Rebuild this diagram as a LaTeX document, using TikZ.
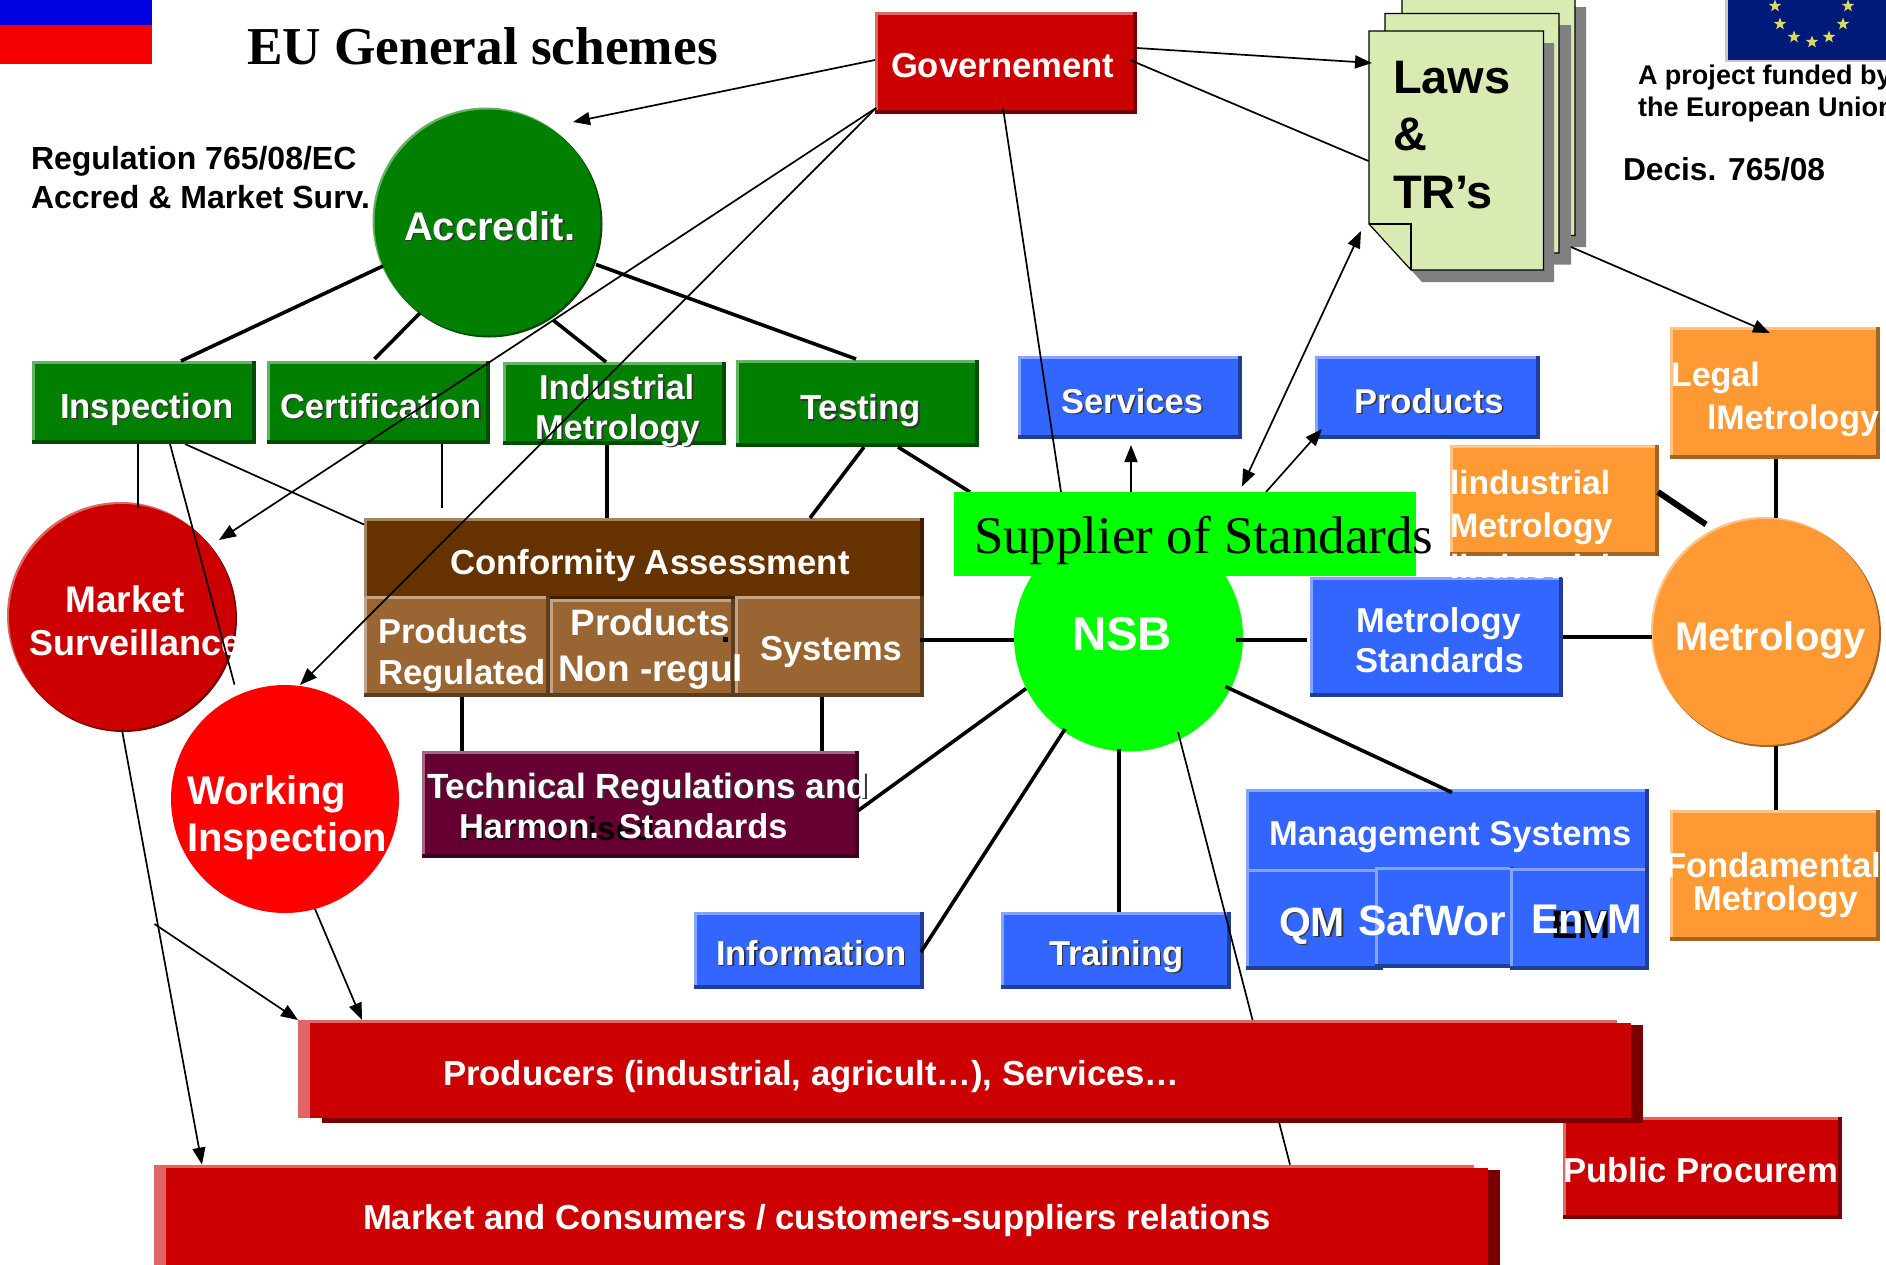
\documentclass[tikz,border=0pt]{standalone}
\usepackage{fontspec}
\setmainfont{Liberation Sans}
\newfontfamily\tmsfam{Liberation Serif}
\usetikzlibrary{calc,arrows.meta,shapes.geometric}
% colour families: L light edge, B base, D dark edge
\definecolor{grnL}{HTML}{66B266}\definecolor{grnB}{HTML}{007F00}\definecolor{grnD}{HTML}{004C00}
\definecolor{redL}{HTML}{E06666}\definecolor{redB}{HTML}{CC0000}\definecolor{redD}{HTML}{7A0000}
\definecolor{bluL}{HTML}{85A3FF}\definecolor{bluB}{HTML}{3366FF}\definecolor{bluD}{HTML}{1F3D99}
\definecolor{orgL}{HTML}{FFC285}\definecolor{orgB}{HTML}{FF9933}\definecolor{orgD}{HTML}{A66421}
\definecolor{brhL}{HTML}{A38566}\definecolor{brhB}{HTML}{663300}\definecolor{brhD}{HTML}{3D1F00}
\definecolor{brsL}{HTML}{C2A385}\definecolor{brsB}{HTML}{996633}\definecolor{brsD}{HTML}{5C3D1F}
\definecolor{tecL}{HTML}{A36685}\definecolor{tecB}{HTML}{660033}\definecolor{tecD}{HTML}{3D001F}
\definecolor{docfill}{HTML}{D9EAB3}
\definecolor{euL}{HTML}{C8C8C8}\definecolor{euB}{HTML}{001A7A}\definecolor{starcol}{HTML}{DDD860}
\newcommand\lab[1]{\bfseries\fontsize{#1}{#1}\selectfont}
\newcommand\shd[1]{\rlap{\kern1.6pt\raisebox{-1.6pt}{\color{black!80}#1}}#1}
\tikzset{
  blk/.style={anchor=base west,inner sep=0pt,outer sep=0pt,text=black},
  wht/.style={anchor=base west,inner sep=0pt,outer sep=0pt,text=white},
  boxn/.style={rectangle,inner sep=0pt,outer sep=0pt},
  cirn/.style={circle,inner sep=0pt,outer sep=0pt},
  thinl/.style={draw=black,line width=1.7pt},
  thickl/.style={draw=black,line width=3.6pt},
  arr/.style={-{Triangle[length=17pt,width=13pt]}},
  darr/.style={{Triangle[length=17pt,width=13pt]}-{Triangle[length=17pt,width=13pt]}},
  starn/.style={star,star points=5,star point ratio=2.4,fill=starcol,inner sep=0pt,minimum size=13pt},
  pagel/.style={draw=black,line width=1.2pt,fill=docfill}
}
% \bx{name}{x0}{y0}{x1}{y1}{family}
\newcommand\bx[6]{%
  \node[boxn,fill=#6D,minimum width={(#4-#2)*1pt},minimum height={(#5-#3)*1pt}] (#1) at ({(#2+#4)/2},{(#3+#5)/2}) {};
  \fill[#6L] (#2,#3) rectangle ({#4-4},{#5-4});
  \fill[#6B] ({#2+2.5},{#3+3}) rectangle ({#4-4},{#5-4});
}
% \wbar{name}{x0}{y0}{x1}{y1}: long bar with wide side edges
\newcommand\wbar[5]{%
  \node[boxn,minimum width={(#4-#2)*1pt},minimum height={(#5-#3)*1pt}] (#1) at ({(#2+#4)/2},{(#3+#5)/2}) {};
  \fill[redD] ({#2+24},{#3+5}) rectangle (#4,#5);
  \fill[redL] (#2,#3) rectangle ({#4-26},{#5-5});
  \fill[redB] ({#2+12},{#3+3}) rectangle ({#4-12},{#5-5});
}
% \crc{name}{cx}{cy}{r}{family}
\newcommand\crc[5]{%
  \fill[#5L] ({#2-1.5},{#3-1.5}) circle ({#4-0.5});
  \fill[#5D] ({#2+1.5},{#3+1.5}) circle ({#4-0.5});
  \node[cirn,fill=#5B,minimum size={(2*#4-2)*1pt}] (#1) at (#2,#3) {};
}
% \page{x0}{y0}{x1}{y1}: sheet outline with the cut corner
\newcommand\pagepath[4]{(#1,#2) -- (#3,#2) -- (#3,#4) -- ({#1+42},#4) -- (#1,{#4-46}) -- cycle}
\begin{document}
\begin{tikzpicture}[x=1pt,y=-1pt]
\useasboundingbox (0,0) rectangle (1886,1264);
\clip (0,0) rectangle (1886,1264);
\fill[white] (0,0) rectangle (1886,1264);

% flags
\fill[blue!88!black] (0,0) rectangle (152,25);
\fill[red!96!black] (0,25) rectangle (152,64);
\fill[euL] (1725,-5) rectangle (1890,62);
\fill[euB] (1728,-5) rectangle (1890,60);
\foreach \n/\sx/\sy in {a/1775/6,b/1848/6,c/1780/24,d/1843/24,e/1794/37,f/1812/42,g/1829/37}
  \node[starn] (star\n) at (\sx,\sy) {};

% titles
\node[blk,font={\tmsfam\lab{53.3}}] (title) at (247,64) {EU General schemes};
\node[blk,font=\lab{32}] (reg1) at (31,169) {Regulation 765/08/EC};
\node[blk,font=\lab{32}] (reg2) at (31,208) {Accred \& Market Surv.};
\node[blk,font=\lab{27}] (proj1) at (1638,84) {A project funded by};
\node[blk,font=\lab{27}] (proj2) at (1638,116.5) {the European Union};
\node[blk,font=\lab{31.7}] (decis) at (1623,180) {Decis. 765/08};

% laws documents
\fill[gray] \pagepath{1413}{7}{1586}{247};
\draw[pagel] \pagepath{1402}{-5}{1575}{235.5};
\fill[gray] \pagepath{1396}{25}{1571}{264.5};
\draw[pagel] \pagepath{1385}{13.5}{1559}{253};
\fill[gray] \pagepath{1380}{43}{1554}{282};
\draw[pagel] \pagepath{1369}{31}{1543.5}{270};
\draw[black,line width=1.2pt] (1369,224) -- (1411,224) -- (1411,270);
\node[boxn,minimum width=174.5pt,minimum height=239pt] (laws) at (1456.25,150.5) {};
\node[blk,font=\lab{47}] (tlaws1) at (1393,93) {Laws};
\node[blk,font=\lab{47}] (tlaws2) at (1393,150) {\&};
\node[blk,font=\lab{47}] (tlaws3) at (1393,208) {TR’s};

% boxes
\bx{gov}{875}{12}{1137}{114}{red}
\bx{insp}{32}{361}{256}{444}{grn}
\bx{cert}{267}{361}{490}{444}{grn}
\bx{ind}{503}{362}{726}{445}{grn}
\bx{test}{736}{360}{979}{447}{grn}
\bx{ca}{364}{518}{924}{600}{brh}
\bx{creg}{364}{596}{550}{697}{brs}
\bx{cnon}{550}{599}{735}{697}{brs}
\bx{csys}{735}{596}{924}{697}{brs}
\bx{serv}{1018}{356}{1242}{439}{blu}
\bx{prod}{1315}{356}{1540}{439}{blu}
\bx{legal}{1670}{327}{1880}{459}{org}
\bx{mstd}{1310}{577}{1563}{697}{blu}
\bx{indm}{1450}{445}{1659}{556}{org}
\bx{ms}{1246}{789}{1649}{875}{blu}
\bx{qm}{1246}{869}{1383}{970}{blu}
\bx{saf}{1375}{867}{1514}{968}{blu}
\bx{env}{1510}{868}{1649}{970}{blu}
\bx{fond}{1670}{809.5}{1880}{940.5}{org}
\bx{train}{1001}{912}{1231}{989}{blu}
\bx{info}{694}{912}{924}{989}{blu}
\bx{tech}{422}{751}{859}{858}{tec}
\bx{pub}{1563}{1116.5}{1842}{1219}{red}

% circles
\crc{acc}{487.5}{222.5}{114}{grn}
\crc{msc}{122}{617}{114}{red}
\node[cirn,fill=red,minimum size=228pt] (work) at (285,799) {};
\node[cirn,fill={rgb,255:red,0;green,255;blue,0},minimum size=229pt] (nsb) at (1128.5,637) {};
\crc{met}{1766}{632}{114}{org}

% box texts
\node[wht,font=\lab{34.6}] (tgov) at (891,77.5) {Governement};
\node[wht,font=\lab{40}] (tacc) at (404,240) {\shd{Accredit.}};
\node[wht,font=\lab{34.7}] (tinsp) at (60,418) {\shd{Inspection}};
\node[wht,font=\lab{34.5}] (tcert) at (280,418) {\shd{Certification}};
\node[wht,font=\lab{34.5}] (tind1) at (539,399) {\shd{Industrial}};
\node[wht,font=\lab{34.5}] (tind2) at (535,439) {\shd{Metrology}};
\node[wht,font=\lab{34.8}] (ttest) at (800,419.6) {\shd{Testing}};
\node[wht,font=\lab{34.75}] (tca) at (450,574) {Conformity Assessment};
\node[wht,font=\lab{34.5}] (treg1) at (378,643) {Products};
\node[wht,font=\lab{34.7}] (treg2) at (378,684.5) {Regulated};
\node[wht,font=\lab{36.8}] (tnon1) at (570.5,635) {Products};
\node[wht,font=\lab{37}] (tnon2) at (558,681.5) {Non -regul};
\node[wht,font=\lab{34.5}] (tsys) at (760,660.5) {Systems};
\node[wht,font=\lab{34.5}] (tserv) at (1061,413) {\shd{Services}};
\node[wht,font=\lab{34.5}] (tprod) at (1354,413) {\shd{Products}};
\node[wht,font=\lab{34}] (tleg1) at (1671,386) {Legal};
\node[wht,font=\lab{34}] (tleg2) at (1707,429) {lMetrology};
\node[wht,font=\lab{33.5}] (timd1) at (1450,494) {lindustrial};
\node[wht,font=\lab{34}] (timd2) at (1450,537) {Metrology};
\node[wht,font=\lab{33.5}] (timd3) at (1450,578) {lindustrial};
\node[wht,font=\lab{34.5}] (tms1) at (1356,632) {Metrology};
\node[wht,font=\lab{34.5}] (tms2) at (1355,672) {Standards};
\node[wht,font=\lab{34.5}] (tmgt) at (1269,845.5) {Management Systems};
\node[wht,font=\lab{41}] (tqm) at (1279,936) {\shd{QM}};
\node[wht,font=\lab{42.5}] (tsaf) at (1358,935) {SafWor};
\node[blk,font=\lab{40}] (tem) at (1551,938) {EM};
\node[wht,font=\lab{41.5}] (tenv) at (1531,933) {EnvM};
\node[wht,font=\lab{34.7}] (tfon1) at (1665,877.5) {Fondamental};
\node[wht,font=\lab{34.5}] (tfon2) at (1693,910) {Metrology};
\node[wht,font=\lab{34.6}] (ttrn) at (1049,965) {\shd{Training}};
\node[wht,font=\lab{34.6}] (tinf) at (716,965) {\shd{Information}};
\node[wht,font=\lab{35}] (ttec) at (427,798) {\shd{Technical Regulations and}};
\node[blk,font=\lab{33.5}] (tharm) at (461,840) {Harmonised};
\node[wht,font=\lab{34.5}] (tstd) at (459,838) {Harmon.\hspace{20pt}Standards};
\node[wht,font=\lab{34.6}] (tpub) at (1563,1182) {Public Procurem};
\node[wht,font=\lab{37}] (tmk1) at (65.5,612) {Market};
\node[wht,font=\lab{36}] (tmk2) at (29,655) {Surveillance};
\node[wht,font=\lab{40}] (twk1) at (187,804) {Working};
\node[wht,font=\lab{40}] (twk2) at (187,851) {Inspection};
\node[wht,font=\lab{47.5}] (tnsb) at (1072,650) {NSB};
\node[wht,font=\lab{40}] (tmet) at (1675,650) {Metrology};
\fill[black] (722.5,636.5) rectangle (727.5,641.5);

% placing the banner geometry early so that connectors may name it
\node[boxn,minimum width=462pt,minimum height=84pt] (supp) at (1185,534) {};
\coordinate (certEnd) at (442,508);
\coordinate (sideFrom) at (154.5,924);

% connectors
\draw[thickl] ($(acc)+(-104.5,43.5)$) -- ($(insp.north west)+(149,0)$);
\draw[thickl] ($(acc)+(-67.5,90.5)$) -- ($(cert.north west)+(107.5,-2)$);
\draw[thickl] ($(acc)+(65.5,97.5)$) -- ($(ind.north west)+(103,0)$);
\draw[thickl] ($(acc)+(108.5,42)$) -- ($(test.north west)+(120,-1)$);
\draw[thickl] ($(ind.north west)+(104,83)$) -- ($(ca.north west)+(243,0)$);
\draw[thickl] ($(test.north west)+(128,87)$) -- ($(ca.north west)+(446,0)$);
\draw[thickl] ($(test.north west)+(162,87)$) -- ($(supp.north west)+(16,0)$);
\draw[thickl] ($(csys.north west)+(185,44)$) -- ($(nsb)+(-114.5,3)$);
\draw[thickl] ($(nsb)+(107.5,3)$) -- ($(mstd.north west)+(-3.5,63)$);
\draw[thickl] ($(mstd.north west)+(253,60)$) -- ($(met)+(-114,5)$);
\draw[thickl] ($(legal.north west)+(106,132)$) -- ($(met)+(10,-114)$);
\draw[thickl,line width=6pt] ($(indm.north east)+(-1,47)$) -- ($(met)+(-60,-107.5)$);
\draw[thickl] ($(met)+(10,114)$) -- ($(fond.north west)+(106,0)$);
\draw[thickl] ($(creg.north west)+(98,101)$) -- ($(tech.north west)+(40,0)$);
\draw[thickl] ($(csys.north west)+(87,101)$) -- ($(tech.north west)+(400,0)$);
\draw[thickl] ($(tech.north west)+(435.6,60)$) -- ($(nsb)+(-102.5,51.6)$);
\draw[thickl] ($(info.north west)+(227,40)$) -- ($(nsb)+(-63.5,92)$);
\draw[thickl] ($(train.north west)+(118,0)$) -- ($(nsb)+(-9.5,111.5)$);
\draw[thickl] ($(ms.north west)+(206,3.5)$) -- ($(nsb)+(97,49.6)$);

\draw[thinl] ($(insp.north west)+(106,83)$) -- ($(msc)+(16,-109)$);
\draw[thinl] ($(insp.north west)+(138,83)$) -- ($(work)+(-50.5,-114.4)$);
\draw[thinl] ($(insp.north west)+(153,83)$) -- ($(ca.north west)+(0,6.5)$);
\draw[thinl] ($(cert.north west)+(175,83)$) -- (certEnd);
\draw[thinl] ($(gov.north east)+(-7,48)$) -- ($(laws.north west)+(-0.5,130)$);
\draw[thinl] ($(gov.north west)+(128,96)$) -- ($(supp.north west)+(107,0)$);
\draw[thinl] ($(nsb)+(49.5,95)$) -- ($(nsb)+(161.5,527.6)$);
\draw[thinl,arr] ($(gov.north west)+(0,48)$) -- ($(acc)+(85.5,-100.5)$);
\draw[thinl,arr] ($(gov.north west)+(1,96)$) -- ($(msc)+(97,-77)$);
\draw[thinl,arr] ($(gov.north west)+(1,96)$) -- ($(work)+(15,-114)$);
\draw[thinl,arr] ($(gov.north east)+(0,36)$) -- ($(laws.north west)+(3,32)$);
\draw[thinl,arr] ($(laws.north east)+(27.5,216)$) -- ($(legal.north west)+(100,6)$);
\draw[thinl,darr] ($(supp.north west)+(288,-5.5)$) -- ($(laws.north west)+(-8,200)$);
\draw[thinl,arr] ($(supp.north west)+(177,0)$) -- ($(serv.north west)+(113,89)$);
\draw[thinl,arr] ($(supp.north west)+(312,0)$) -- ($(prod.north west)+(7,73)$);

% green banner
\fill[green] (954,492) rectangle (1416,576);
\node[blk,font={\tmsfam\fontsize{53}{53}\selectfont}] (tsupp) at (974,553) {Supplier of Standards};

% long bars
\wbar{prodr}{298}{1020}{1643}{1122.5}
\wbar{mkt}{154}{1164.6}{1500}{1290}
\node[wht,font=\lab{34.7}] (tpr) at (443,1085.5) {Producers (industrial, agricult…), Services…};
\node[wht,font=\lab{34.7}] (tmc) at (363,1229.5) {Market and Consumers / customers-suppliers relations};
\draw[thinl,arr] ($(msc)+(0,113)$) -- ($(mkt.north west)+(48,0)$);
\draw[thinl,arr] (sideFrom) -- (prodr.north west);
\draw[thinl,arr] ($(work)+(30,110)$) -- ($(prodr.north west)+(64,0)$);
\end{tikzpicture}
\end{document}
